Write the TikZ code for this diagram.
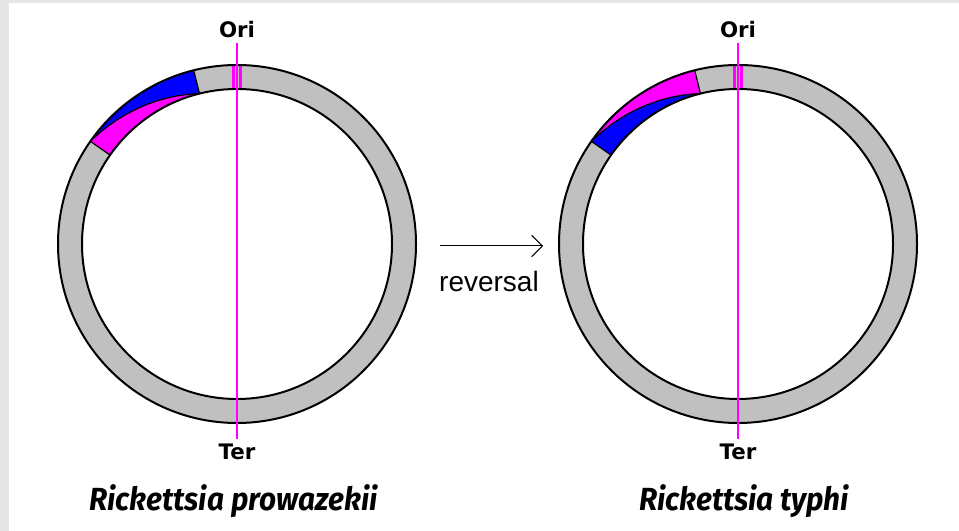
\documentclass[tikz,border=0pt]{standalone}
\usepackage{fontspec}
\usetikzlibrary{arrows.meta}
\newfontfamily\markfont{DejaVu Sans}
\newfontfamily\speciesfont{Fira Sans}
\newfontfamily\notefont{Liberation Sans}
\definecolor{ringgray}{RGB}{192,192,192}
\definecolor{edgegray}{RGB}{230,230,230}
\definecolor{segblue}{RGB}{0,0,255}
\definecolor{segmag}{RGB}{255,0,255}

\begin{document}
\begin{tikzpicture}[x=0.75pt,y=0.75pt,
  outline/.style={draw=black,line width=1.5pt},
  segedge/.style={draw=black,line width=0.9pt},
  axisline/.style={draw=segmag,line width=0.8pt},
  marklabel/.style={font=\markfont\bfseries\fontsize{16}{19}\selectfont,inner sep=0pt},
  specieslabel/.style={font=\speciesfont\bfseries\itshape\fontsize{24}{28}\selectfont,inner sep=0pt},
  notelabel/.style={font=\notefont\fontsize{21}{25}\selectfont,inner sep=0pt}]
\useasboundingbox (0,0) rectangle (959,531);
\fill[white] (0,0) rectangle (959,531);
% light frame strips
\fill[edgegray] (0,0) rectangle (9,531);
\fill[edgegray] (0,528) rectangle (959,531);

% two chromosome maps: outer/inner colour of the inverted block swap
\foreach \cx/\outc/\inc/\nm/\sx/\sp in {237/segblue/segmag/L/233.5/{Rickettsia prowazekii},738/segmag/segblue/R/744/{Rickettsia typhi}}{
  \begin{scope}[shift={(\cx,287)}]
    % ring
    \fill[ringgray,even odd rule] (0,0) circle[radius=179] (0,0) circle[radius=155];
    % origin marks
    \fill[segmag] (-5,155) rectangle (-2,179);
    \fill[segmag] (2,155) rectangle (5,179);
    % inverted block, split by a spiral
    \fill[\outc] (104:179) arc[start angle=104,end angle=145,radius=179]
      -- plot[domain=145:104,samples=50] (\x:{155+24*(\x-104)/41}) -- cycle;
    \fill[\inc] plot[domain=104:145,samples=50] (\x:{155+24*(\x-104)/41})
      -- (145:155) arc[start angle=145,end angle=104,radius=155] -- cycle;
    \draw[segedge] plot[domain=104:145,samples=50] (\x:{155+24*(\x-104)/41});
    \draw[segedge] (104:155) -- (104:179);
    \draw[segedge] (145:155) -- (145:179);
    % ring outline
    \draw[outline] (0,0) circle[radius=179];
    \draw[outline] (0,0) circle[radius=155];
    % Ori--Ter axis
    \node[marklabel] (ori\nm) at (0,214.5) {Ori};
    \node[marklabel] (ter\nm) at (0,-208) {Ter};
    \coordinate (axtop\nm) at (0,201);
    \coordinate (axbot\nm) at (0,-195);
    \draw[axisline] (axtop\nm) -- (axbot\nm);
  \end{scope}
  \node[specieslabel] (species\nm) at (\sx,30) {\scalebox{0.93}[1]{\sp}};
}

% reversal arrow
\coordinate (arrS) at (440,285);
\coordinate (arrE) at (543,285);
\draw[line width=0.75pt,-{Straight Barb[length=8pt,width=16pt]}] (arrS) -- (arrE);
\node[notelabel] (rev) at (489,250) {reversal};
\end{tikzpicture}
\end{document}
